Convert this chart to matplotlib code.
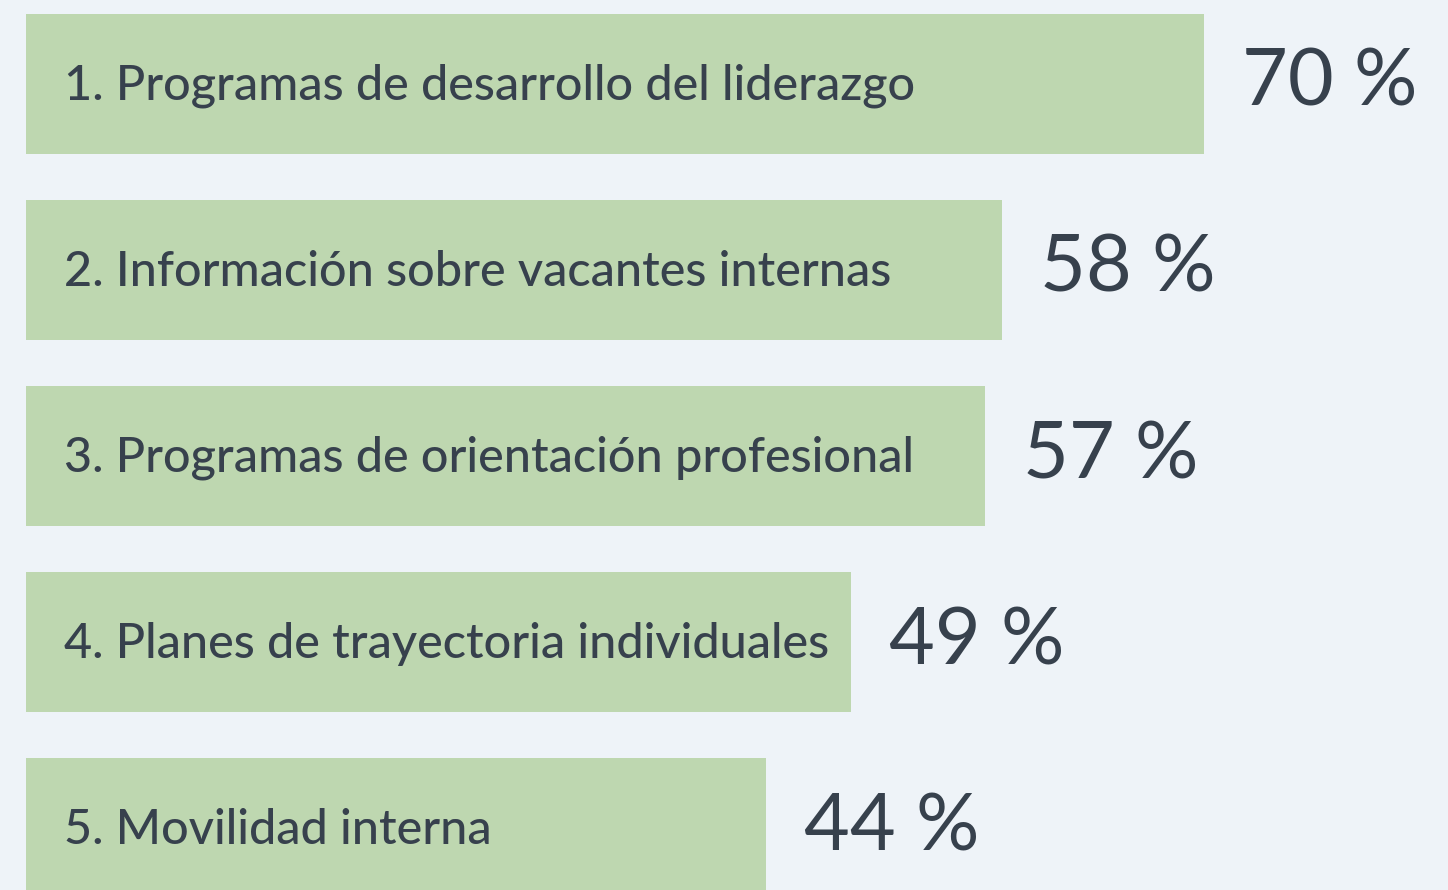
import matplotlib
matplotlib.use("Agg")
import matplotlib.pyplot as plt

categories = [
    "1. Programas de desarrollo del liderazgo",
    "2. Información sobre vacantes internas",
    "3. Programas de orientación profesional",
    "4. Planes de trayectoria individuales",
    "5. Movilidad interna",
]
values = [70, 58, 57, 49, 44]
value_labels = ["70 %", "58 %", "57 %", "49 %", "44 %"]

BG = "#eef3f8"
BAR = "#bed7b0"
TXT = "#37414d"

W, H = 1448, 890
fig = plt.figure(figsize=(W / 100, H / 100), dpi=100, facecolor=BG)
ax = fig.add_axes([0, 0, 1, 1])
ax.set_facecolor(BG)

px_per_unit = (1204 - 26) / 70.0
pitch = 186.0
ax.set_xlim(-26 / px_per_unit, (W - 26) / px_per_unit)
ax.set_ylim((H - 84) / pitch, -84 / pitch)

ypos = list(range(len(categories)))
ax.barh(ypos, values, height=140 / pitch, color=BAR, left=0)

for y, v, cat, lab in zip(ypos, values, categories, value_labels):
    ax.text(38 / px_per_unit, y + 0.012, cat, ha="left", va="center",
            fontsize=35, color=TXT, fontweight="medium",
            family=["Lato", "DejaVu Sans"])
    ax.text(v + 38 / px_per_unit, y + 0.0, lab, ha="left", va="center",
            fontsize=57, color=TXT, family=["Lato", "DejaVu Sans"])

ax.axis("off")
fig.savefig("out.png", dpi=100, facecolor=BG)
